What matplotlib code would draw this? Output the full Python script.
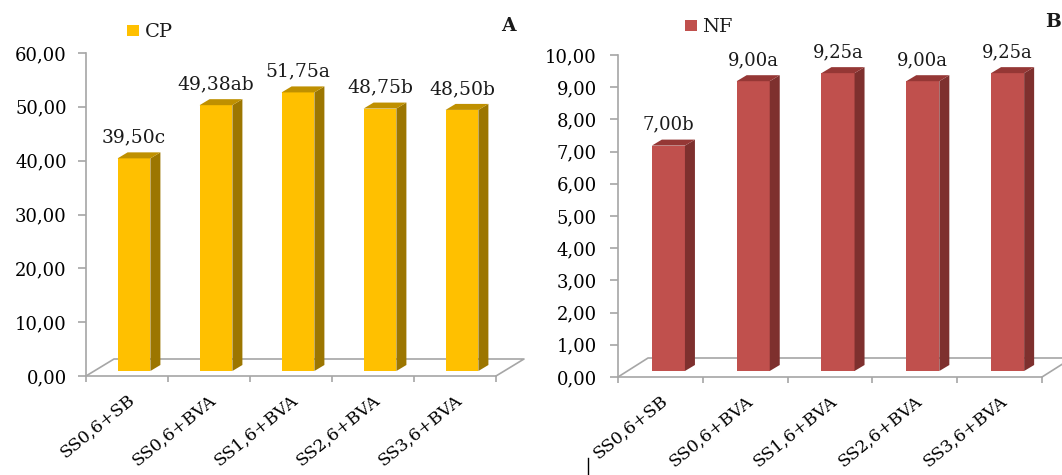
import numpy as np
import matplotlib
matplotlib.use('Agg')
import matplotlib.pyplot as plt
from matplotlib.patches import Polygon, Patch
from matplotlib.lines import Line2D
from matplotlib.ticker import FuncFormatter

# data
categories = ['SS0,6+SB', 'SS0,6+BVA', 'SS1,6+BVA', 'SS2,6+BVA', 'SS3,6+BVA']
cp_values = [39.50, 49.38, 51.75, 48.75, 48.50]
cp_letters = ['c', 'ab', 'a', 'b', 'b']
nf_values = [7.00, 9.00, 9.25, 9.00, 9.25]
nf_letters = ['b', 'a', 'a', 'a', 'a']

W, H, DPI = 1062, 475, 100
plt.rcParams['font.family'] = ['DejaVu Serif']
plt.rcParams['text.color'] = '#1a1a1a'

GREY = '#A6A6A6'

fig = plt.figure(figsize=(W / DPI, H / DPI), dpi=DPI)


def comma(v, pos=None):
    return f'{v:.2f}'.replace('.', ',')


def draw_panel(rect, values, letters, name, ymax, ystep, colors,
               shift, floor_depth, bar_width, label_size, ypad, legend_xy):
    front, side, top = colors
    ax = fig.add_axes(rect)
    n = len(values)
    x = np.arange(n)
    ax.set_xlim(-0.5, n - 0.5)
    ax.set_ylim(0, ymax)

    # pixel -> data units, so the fake 3D depth stays the same on screen
    bb = ax.get_position()
    ux = n / (bb.width * W)
    uy = ymax / (bb.height * H)
    sx, sy = shift[0] * ux, shift[1] * uy
    fx, fy = floor_depth[0] * ux, floor_depth[1] * uy
    dx, dy = 10 * ux, 6 * uy

    # floor
    x0, x1 = -0.5, n - 0.5
    ax.plot([x0, x0 + fx, x1 + fx, x1], [0, fy, fy, 0],
            color=GREY, lw=1.2, clip_on=False, zorder=1)

    # bars: front face + side + top
    ax.bar(x + sx, values, bottom=sy, width=bar_width, color=front,
           zorder=3, clip_on=False)
    for xi, v in zip(x, values):
        l = xi + sx - bar_width / 2
        r = xi + sx + bar_width / 2
        b, t = sy, v + sy
        ax.add_patch(Polygon([(r, b), (r + dx, b + dy), (r + dx, t + dy), (r, t)],
                             closed=True, facecolor=side, edgecolor='none',
                             zorder=3, clip_on=False))
        ax.add_patch(Polygon([(l, t), (l + dx, t + dy), (r + dx, t + dy), (r, t)],
                             closed=True, facecolor=top, edgecolor='none',
                             zorder=3, clip_on=False))

    for xi, v, let in zip(x, values, letters):
        ax.annotate(comma(v) + let, xy=(xi + sx, v + sy), xytext=(0, 21 * 0.72),
                    textcoords='offset points', ha='center', va='center',
                    fontsize=label_size, zorder=5)

    # axes styling
    for s in ['top', 'right']:
        ax.spines[s].set_visible(False)
    for s in ['left', 'bottom']:
        ax.spines[s].set_color(GREY)
        ax.spines[s].set_linewidth(1.2)

    ax.set_yticks(np.arange(0, ymax + ystep / 2, ystep))
    ax.yaxis.set_major_formatter(FuncFormatter(comma))
    ax.tick_params(axis='y', length=5.8, width=1.2, color=GREY, pad=ypad, labelsize=13)

    ax.set_xticks(np.arange(-0.5, n, 1))
    ax.set_xticks(x, minor=True)
    ax.set_xticklabels(categories, minor=True, rotation=39, ha='right',
                       va='top', rotation_mode='anchor')
    ax.tick_params(axis='x', which='major', length=4.3, width=1.2, color=GREY,
                   labelbottom=False)
    ax.tick_params(axis='x', which='minor', length=0, pad=11, labelsize=12.5)

    ax.legend(handles=[Patch(facecolor=front)], labels=[name],
              loc='center left', bbox_to_anchor=legend_xy,
              bbox_transform=fig.transFigure, frameon=False, borderpad=0,
              borderaxespad=0, handlelength=0.6, handleheight=0.5,
              handletextpad=0.3, fontsize=14)
    return ax


ax_cp = draw_panel([86 / W, 99 / H, 410 / W, 323 / H], cp_values, cp_letters, 'CP',
                   60, 10, ('#FFC000', '#9C7600', '#BF9000'),
                   shift=(7, 5), floor_depth=(28, 17), bar_width=0.4,
                   label_size=13.5, ypad=8, legend_xy=(127 / W, 1 - 32 / H))

ax_nf = draw_panel([618 / W, 98 / H, 424 / W, 322 / H], nf_values, nf_letters, 'NF',
                   10, 1, ('#C0504D', '#7E302E', '#953735'),
                   shift=(8, 6), floor_depth=(30, 19), bar_width=0.39,
                   label_size=13, ypad=9.5, legend_xy=(685 / W, 1 - 27 / H))

fig.text(501 / W, 1 - 26 / H, 'A', fontweight='bold', fontsize=13.5,
         ha='left', va='center')
fig.text(1061 / W, 1 - 22 / H, 'B', fontweight='bold', fontsize=13.5,
         ha='right', va='center')

# small stray cursor mark seen near the bottom of the reference
fig.add_artist(Line2D([588 / W, 588 / W], [0, 17 / H], color='black', lw=1))

fig.savefig('out.png', dpi=DPI)
